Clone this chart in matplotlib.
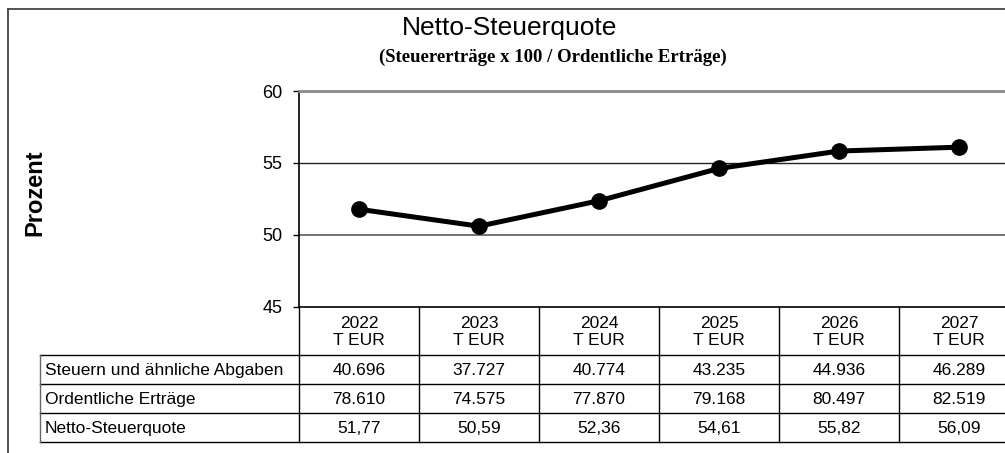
import numpy as np
import matplotlib.pyplot as plt
from matplotlib.lines import Line2D

# data
jahre = ["2022", "2023", "2024", "2025", "2026", "2027"]
einheit = "T EUR"
zeilen = ["Steuern und ähnliche Abgaben", "Ordentliche Erträge", "Netto-Steuerquote"]
steuern = ["40.696", "37.727", "40.774", "43.235", "44.936", "46.289"]
ertraege = ["78.610", "74.575", "77.870", "79.168", "80.497", "82.519"]
quote_txt = ["51,77", "50,59", "52,36", "54,61", "55,82", "56,09"]
quote = [51.77, 50.59, 52.36, 54.61, 55.82, 56.09]
y_ticks = [45, 50, 55, 60]

plt.rcParams['font.family'] = ['Liberation Sans', 'DejaVu Sans']

W, H = 1005, 453
fig = plt.figure(figsize=(W / 100, H / 100), dpi=100)

# plot area in pixel coords
left, right, top, bottom = 299, 1019, 91, 306.5
ax = fig.add_axes([left / W, 1 - bottom / H, (right - left) / W, (bottom - top) / H])
x = np.arange(len(jahre))
ax.plot(x, quote, color="black", lw=3.6, marker="o", ms=11, zorder=3)
ax.set_xlim(-0.5, len(jahre) - 0.5)
ax.set_ylim(45, 60)
ax.set_yticks(y_ticks)
ax.set_yticklabels([str(t) for t in y_ticks], fontsize=13)
ax.tick_params(axis="y", length=4, width=1, pad=8)
ax.set_xticks([])
ax.axhline(55, color="#222222", lw=1.0, zorder=1)
ax.axhline(50, color="#666666", lw=1.3, zorder=1)
ax.spines["top"].set_color("#888888")
ax.spines["top"].set_linewidth(2)
ax.spines["right"].set_visible(False)
ax.spines["left"].set_linewidth(1.2)
ax.spines["bottom"].set_linewidth(1.2)

# overlay for table, frame and titles (pixel coords)
ov = fig.add_axes([0, 0, 1, 1], zorder=-1)
ov.set_xlim(0, W)
ov.set_ylim(H, 0)
ov.axis("off")
ov.patch.set_alpha(0)

def hl(y, x0, x1, c="black", lw=1.0):
    ov.add_line(Line2D([x0, x1], [y, y], color=c, lw=lw))

def vl(xp, y0, y1, c="black", lw=1.0):
    ov.add_line(Line2D([xp, xp], [y0, y1], color=c, lw=lw))

# outer frame
hl(9, 8, W, c="#444444", lw=1.3)
vl(8, 9, H, c="#444444", lw=1.3)

# titles
ov.text(510, 28, "Netto-Steuerquote", ha="center", va="center", fontsize=19)
ov.text(553, 57, "(Steuererträge x 100 / Ordentliche Erträge)", ha="center", va="center",
        fontsize=13.5, fontweight="bold", family="Liberation Serif")
ov.text(35, 193, "Prozent", rotation=90, ha="center", va="center",
        fontsize=17, fontweight="bold")

# table
col_w = 120
row_y = [306.5, 355, 384, 413, 442]
lab_x = 40
for i in range(len(jahre) + 1):
    vl(left + col_w * i, row_y[0], row_y[-1])
for y in row_y[1:]:
    hl(y, lab_x, W)
vl(lab_x, row_y[1], row_y[-1], c="#666666")

for i, j in enumerate(jahre):
    cx = left + col_w * (i + 0.5)
    ov.text(cx, (row_y[0] + row_y[1]) / 2 + 1, j + "\n" + einheit, ha="center", va="center",
            fontsize=12.5, linespacing=1.2)
    for r, vals in enumerate([steuern, ertraege, quote_txt]):
        ov.text(cx, (row_y[r + 1] + row_y[r + 2]) / 2 + 1, vals[i], ha="center", va="center",
                fontsize=12.5)
for r, z in enumerate(zeilen):
    ov.text(lab_x + 5, (row_y[r + 1] + row_y[r + 2]) / 2 + 1, z, ha="left", va="center",
            fontsize=12.5)

fig.savefig("out.png", dpi=100)
